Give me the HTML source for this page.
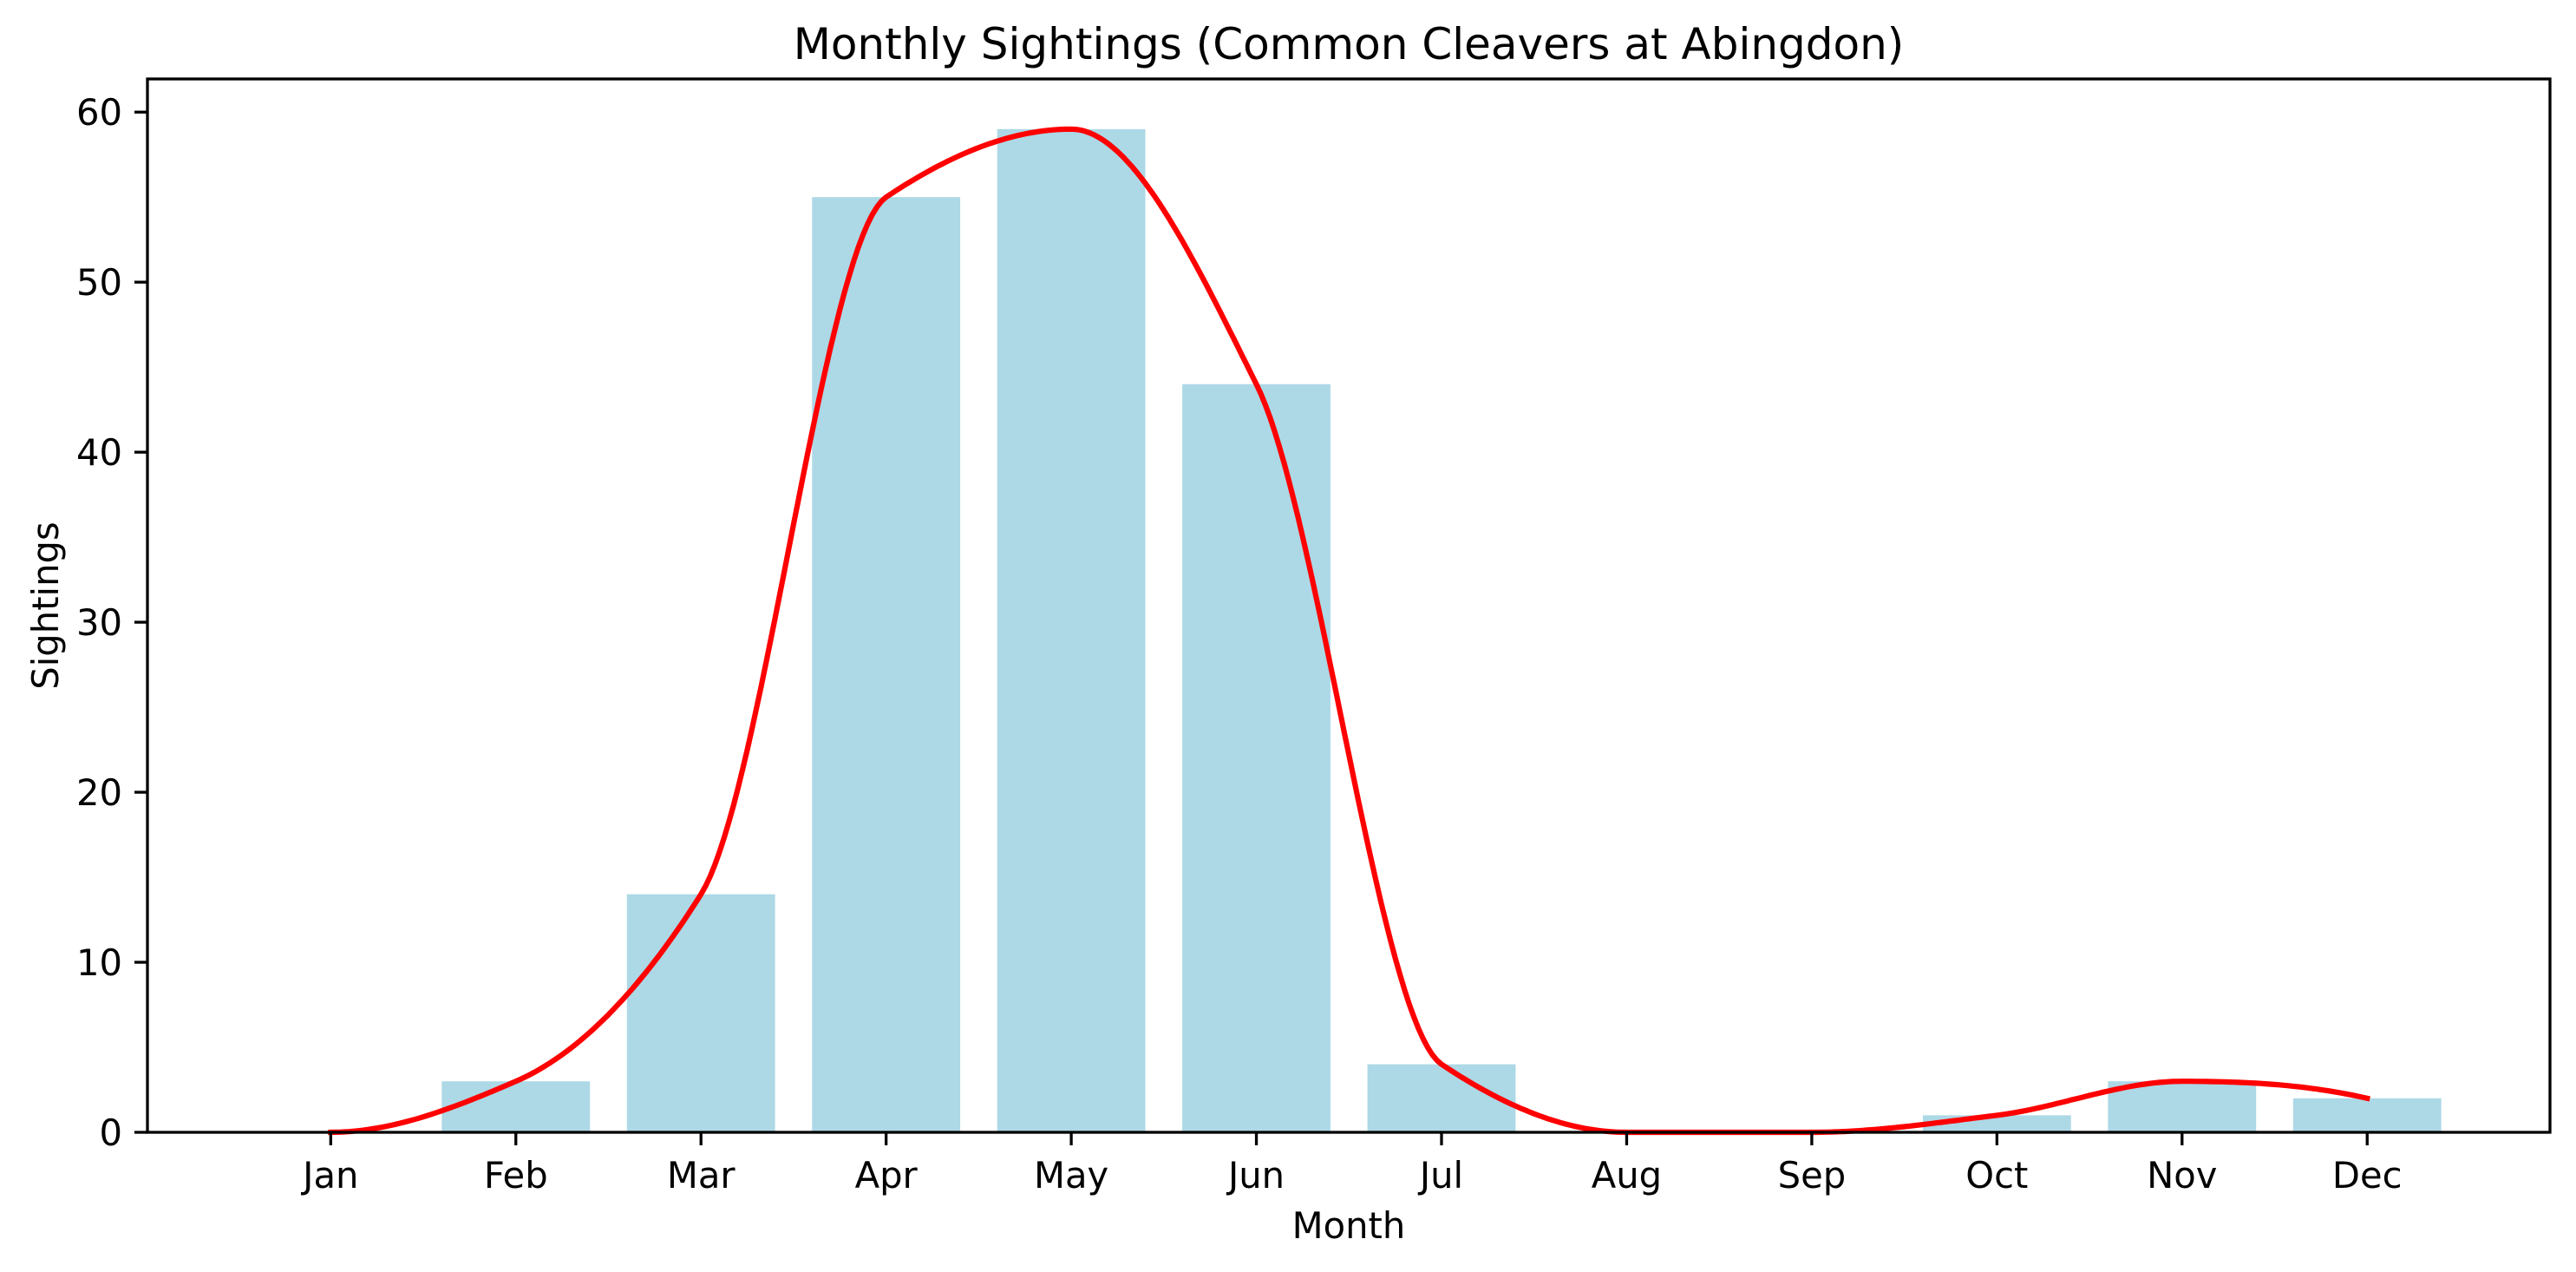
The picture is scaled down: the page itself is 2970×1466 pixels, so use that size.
<!DOCTYPE html>
<html><head><meta charset="utf-8"><style>
html,body{margin:0;padding:0;background:#fff;}
svg{display:block;font-family:"DejaVu Sans","Liberation Sans",sans-serif;}
</style></head><body>
<svg id="s" width="2970" height="1466" viewBox="0 0 2970 1466" xmlns="http://www.w3.org/2000/svg">
<rect width="2970" height="1466" fill="#fff"/>
<g id="bars" fill="#ADD8E6"></g>
<path id="curve" fill="none" stroke="#ff0000" stroke-width="6.2" stroke-linejoin="round" stroke-linecap="square"/>
<rect x="170" y="91" width="2770" height="1214" fill="none" stroke="#000" stroke-width="3.3"/>
<g id="ticks" stroke="#000" stroke-width="3.3"></g>
<g id="labels" font-size="41.7" fill="#000"></g>
<text x="1555" y="68" font-size="50" text-anchor="middle">Monthly Sightings (Common Cleavers at Abingdon)</text>
<text x="1555" y="1427" font-size="41.7" text-anchor="middle">Month</text>
<text transform="translate(67,698) rotate(-90)" font-size="41.7" text-anchor="middle">Sightings</text>
</svg>
<script>
var v=[0,3,14,55,59,44,4,0,0,1,3,2],m=["Jan","Feb","Mar","Apr","May","Jun","Jul","Aug","Sep","Oct","Nov","Dec"];
var X=function(i){return 381.3+213.45*i},Y=function(y){return 1305-y*(1214/61.95)};
var ns="http://www.w3.org/2000/svg",b=document.getElementById("bars"),t=document.getElementById("ticks"),l=document.getElementById("labels");
function el(p,n,a,tx){var e=document.createElementNS(ns,n);for(var k in a)e.setAttribute(k,a[k]);if(tx)e.textContent=tx;p.appendChild(e);}
for(var i=0;i<12;i++){
 if(v[i]>0)el(b,"rect",{x:X(i)-85.4,y:Y(v[i]),width:170.8,height:1305-Y(v[i])});
 el(t,"line",{x1:X(i),y1:1305,x2:X(i),y2:1320});
 el(l,"text",{x:X(i),y:1369,"text-anchor":"middle"},m[i]);
}
for(var k=0;k<=60;k+=10){var y=Y(k);el(t,"line",{x1:155,y1:y,x2:170,y2:y});el(l,"text",{x:141,y:y+15,"text-anchor":"end"},""+k);}
var n=12,d=[],s=[];for(i=0;i<n-1;i++)s.push(v[i+1]-v[i]);
for(i=1;i<n-1;i++){if(s[i-1]*s[i]<=0)d[i]=0;else d[i]=2/(1/s[i-1]+1/s[i]);}
function ed(s0,s1){var dd=(3*s0-s1)/2;if(dd*s0<=0)dd=0;else if(s0*s1<=0&&Math.abs(dd)>Math.abs(3*s0))dd=3*s0;return dd;}
d[0]=ed(s[0],s[1]);d[n-1]=ed(s[n-2],s[n-3]);
var p="";for(i=0;i<n-1;i++){for(var j=0;j<=40;j++){var u=j/40,h00=2*u*u*u-3*u*u+1,h10=u*u*u-2*u*u+u,h01=-2*u*u*u+3*u*u,h11=u*u*u-u*u;
 var y=h00*v[i]+h10*d[i]+h01*v[i+1]+h11*d[i+1];if(i>0&&j==0)continue;p+=(p?"L":"M")+X(i+u).toFixed(1)+","+Y(y).toFixed(1);}}
document.getElementById("curve").setAttribute("d",p);
</script>
</body></html>
